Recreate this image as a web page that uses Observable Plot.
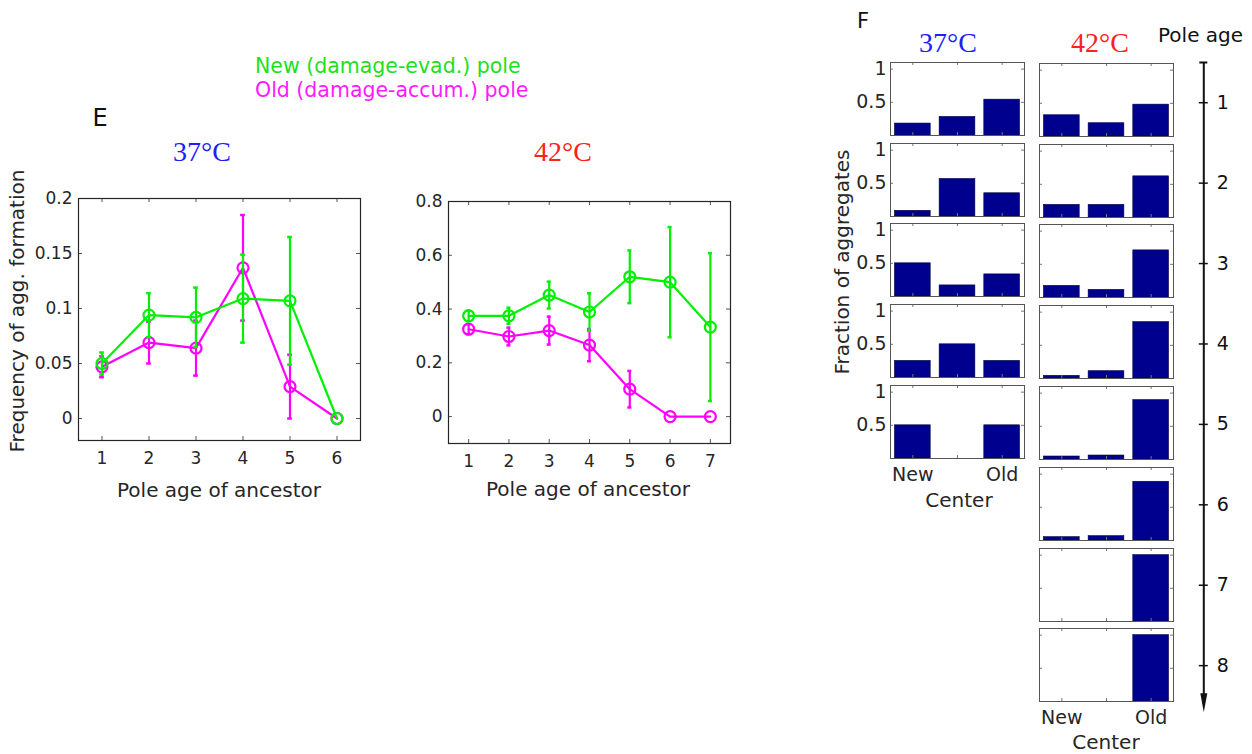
<!DOCTYPE html>
<html><head><meta charset="utf-8">
<script src="https://cdn.jsdelivr.net/npm/d3@7"></script>
<script src="https://cdn.jsdelivr.net/npm/@observablehq/plot@0.6"></script>
<style>
body{margin:0;background:#fff;}
#c{position:relative;width:1252px;height:754px;overflow:hidden;font-family:"DejaVu Sans",sans-serif;color:#262626;background:#fff;}
.t{position:absolute;white-space:nowrap;line-height:1;}
.serif{font-family:"Liberation Serif",serif;}
</style></head><body><div id="c"></div>
<script>
// ---------- Panel E data ----------
const poleAges37 = [1, 2, 3, 4, 5, 6];
const new37 = [0.050, 0.094, 0.092, 0.109, 0.107, 0];
const new37Err = [0.010, 0.020, 0.027, 0.040, 0.058, 0];
const old37 = [0.047, 0.069, 0.064, 0.137, 0.029, 0];
const old37Err = [0.0095, 0.019, 0.025, 0.048, 0.029, 0];

const poleAges42 = [1, 2, 3, 4, 5, 6, 7];
const new42 = [0.375, 0.375, 0.452, 0.389, 0.520, 0.500, 0.333];
const new42Err = [0.020, 0.030, 0.050, 0.070, 0.098, 0.205, 0.275];
const old42 = [0.325, 0.298, 0.320, 0.266, 0.102, 0, 0];
const old42Err = [0.018, 0.033, 0.052, 0.060, 0.068, 0, 0];

const yTicks37 = [0, 0.05, 0.1, 0.15, 0.2];
const yTicks42 = [0, 0.2, 0.4, 0.6, 0.8];

// ---------- Panel F data ----------
const centerLabels = ["New", "", "Old"];
const frac37 = [
  [0.18, 0.28, 0.54],
  [0.086, 0.565, 0.35],
  [0.50, 0.167, 0.333],
  [0.25, 0.50, 0.25],
  [0.50, 0, 0.50]
];
const frac42 = [
  [0.32, 0.20, 0.48],
  [0.19, 0.19, 0.62],
  [0.175, 0.115, 0.71],
  [0.04, 0.11, 0.85],
  [0.045, 0.06, 0.895],
  [0.05, 0.065, 0.885],
  [0, 0, 1],
  [0, 0, 1]
];
const poleAgeTicks = [1, 2, 3, 4, 5, 6, 7, 8];

const GREEN = "#00f000", MAGENTA = "#ff00ff", BAR = "#00008f";
const c = document.getElementById("c");

function place(el, left, top) {
  el.style.position = "absolute";
  el.style.left = left + "px";
  el.style.top = top + "px";
  c.appendChild(el);
}
function text(str, x, y, opts = {}) {
  const d = document.createElement("div");
  d.className = "t" + (opts.serif ? " serif" : "");
  d.textContent = str;
  d.style.fontSize = (opts.size || 20) + "px";
  d.style.color = opts.color || "#262626";
  d.style.left = x + "px";
  d.style.top = y + "px";
  let tr = opts.anchor === "start" ? "translate(0,-50%)" : "translate(-50%,-50%)";
  if (opts.rotate) tr += " rotate(" + opts.rotate + "deg)";
  d.style.transform = tr;
  c.appendChild(d);
}

function seriesMarks(ages, vals, errs, color) {
  const s = ages.map((a, i) => ({age: a, v: vals[i], e: errs[i]}));
  const se = s.filter(d => d.e > 0);
  return [
    Plot.ruleX(se, {x: "age", y1: d => Math.max(0, d.v - d.e), y2: d => d.v + d.e, stroke: color, strokeWidth: 2.2}),
    Plot.ruleY(se, {y: d => d.v + d.e, x1: d => d.age - 0.05, x2: d => d.age + 0.05, stroke: color, strokeWidth: 2.5}),
    Plot.ruleY(se, {y: d => Math.max(0, d.v - d.e), x1: d => d.age - 0.05, x2: d => d.age + 0.05, stroke: color, strokeWidth: 2.5}),
    Plot.line(s, {x: "age", y: "v", stroke: color, strokeWidth: 2.2}),
    Plot.dot(s, {x: "age", y: "v", r: 5.5, stroke: color, strokeWidth: 2.2, fill: "none"})
  ];
}

function lineChart(cfg) {
  const fw = cfg.width - cfg.ml - cfg.mr, fh = cfg.height - cfg.mt - cfg.mb;
  const ages = cfg.ages;
  const svg = Plot.plot({
    width: cfg.width, height: cfg.height,
    marginLeft: cfg.ml, marginRight: cfg.mr, marginTop: cfg.mt, marginBottom: cfg.mb,
    style: {background: "transparent", fontFamily: "DejaVu Sans", fontSize: "17px", color: "#262626"},
    x: {domain: cfg.xDomain},
    y: {domain: cfg.yDomain},
    marks: [
      Plot.axisX(ages, {tickSize: 0, tickPadding: 11, label: null, tickFormat: d => String(d)}),
      Plot.axisY(cfg.yTicks, {tickSize: 0, tickPadding: 6, label: null, tickFormat: d => String(d)}),
      Plot.tickX(ages, {x: d => d, insetTop: fh - 4, stroke: "#555"}),
      Plot.tickX(ages, {x: d => d, insetBottom: fh - 4, stroke: "#555"}),
      Plot.tickY(cfg.yTicks, {y: d => d, insetRight: fw - 4, stroke: "#555"}),
      Plot.tickY(cfg.yTicks, {y: d => d, insetLeft: fw - 4, stroke: "#555"}),
      ...seriesMarks(ages, cfg.oldV, cfg.oldE, MAGENTA),
      ...seriesMarks(ages, cfg.newV, cfg.newE, GREEN),
      Plot.frame({stroke: "#262626", strokeWidth: 1.2})
    ]
  });
  place(svg, cfg.left, cfg.top);
}

lineChart({ages: poleAges37, newV: new37, newE: new37Err, oldV: old37, oldE: old37Err,
  xDomain: [0.5, 6.5], yDomain: [-0.02, 0.2], yTicks: yTicks37,
  left: 0, top: 170, width: 370, height: 310, ml: 78, mr: 10, mt: 28, mb: 40});
lineChart({ages: poleAges42, newV: new42, newE: new42Err, oldV: old42, oldE: old42Err,
  xDomain: [0.5, 7.5], yDomain: [-0.1, 0.8], yTicks: yTicks42,
  left: 370, top: 170, width: 370, height: 310, ml: 78, mr: 10, mt: 31, mb: 37});

// ---------- Panel F small bar panels ----------
const rowTops = [62, 143, 223, 304, 385, 466, 547, 627];
const FW = 134, FH = 73;
function barPanel(vals, left, top, showY, showX) {
  const ml = showY ? 40 : 2, mr = 2, mt = 12, mb = showX ? 30 : 2;
  const rows = vals.map((v, i) => ({pos: i + 1, v}));
  const marks = [
    Plot.rectY(rows, {x1: d => d.pos - 0.4, x2: d => d.pos + 0.4, y1: 0, y2: "v", fill: BAR, stroke: "#000040", strokeWidth: 0.6}),
    Plot.tickX([1, 2, 3], {x: d => d, insetBottom: FH - 3, stroke: "#777"}),
    Plot.tickX([1, 2, 3], {x: d => d, insetTop: FH - 3, stroke: "#777"}),
    Plot.tickY([0.5, 1], {y: d => d, insetRight: FW - 3, stroke: "#777"}),
    Plot.tickY([0.5, 1], {y: d => d, insetLeft: FW - 3, stroke: "#777"}),
    Plot.frame({stroke: "#555"})
  ];
  if (showY) marks.push(Plot.axisY([0.5, 1], {tickSize: 0, tickPadding: 4, label: null, tickFormat: d => String(d)}));
  if (showX) marks.push(Plot.axisX([1, 3], {tickSize: 0, tickPadding: 9, label: null, tickFormat: d => centerLabels[d - 1]}));
  const svg = Plot.plot({
    width: ml + FW + mr, height: mt + FH + mb,
    marginLeft: ml, marginRight: mr, marginTop: mt, marginBottom: mb,
    style: {background: "transparent", fontFamily: "DejaVu Sans", fontSize: "19px", color: "#262626"},
    x: {domain: [0.5, 3.5], axis: showX ? undefined : null},
    y: {domain: [0, 1.1], axis: showY ? undefined : null},
    marks
  });
  place(svg, left - ml, top - mt);
}
frac37.forEach((v, i) => barPanel(v, 890, rowTops[i], true, i === frac37.length - 1));
frac42.forEach((v, i) => barPanel(v, 1039, rowTops[i] + 1, false, i === frac42.length - 1));

// ---------- Pole age arrow axis ----------
const arrowHead = {draw(ctx) { ctx.moveTo(0, 0); ctx.lineTo(-3.5, -19); ctx.lineTo(3.5, -19); ctx.closePath(); }};
const axisSvg = Plot.plot({
  width: 70, height: 690, margin: 0,
  style: {background: "transparent", fontFamily: "DejaVu Sans", fontSize: "19px", color: "#111"},
  x: {domain: [-1, 1], range: [13.3, 33.3], axis: null},
  y: {domain: [0.5, 8.58], range: [22, 671.8], axis: null},
  marks: [
    Plot.ruleX([0], {y1: 0.5, y2: 8.4, stroke: "#111", strokeWidth: 2}),
    Plot.ruleY([0.5], {y: d => d, x1: -0.4, x2: 0.4, stroke: "#111", strokeWidth: 2}),
    Plot.ruleY(poleAgeTicks, {y: d => d, x1: -0.45, x2: 0.45, stroke: "#111", strokeWidth: 1.5}),
    Plot.text(poleAgeTicks, {y: d => d, x: 1.3, text: d => String(d), textAnchor: "start", fill: "#111"}),
    Plot.dot([8.58], {x: 0, y: d => d, symbol: arrowHead, fill: "#111", stroke: "none"})
  ]
});
place(axisSvg, 1180, 40);

// ---------- Text ----------
text("New (damage-evad.) pole", 255, 66, {anchor: "start", color: "#1ee01e", size: 20.5});
text("Old (damage-accum.) pole", 255, 90, {anchor: "start", color: "#ff1aff", size: 20.5});
text("E", 100, 118, {size: 24, color: "#111"});
text("37°C", 202, 152, {serif: true, size: 28, color: "#2020ff"});
text("42°C", 563, 152, {serif: true, size: 28, color: "#ff2020"});
text("Frequency of agg. formation", 17, 311, {size: 20, rotate: -90});
text("Pole age of ancestor", 219, 490, {size: 20});
text("Pole age of ancestor", 588, 489, {size: 20});
text("F", 863, 21, {size: 21, color: "#111"});
text("37°C", 948, 43, {serif: true, size: 28, color: "#2020ff"});
text("42°C", 1100, 43, {serif: true, size: 28, color: "#ff2020"});
text("Pole age", 1158, 35, {anchor: "start", size: 20, color: "#111"});
text("Fraction of aggregates", 842, 262, {size: 20, rotate: -90});
text("Center", 959, 500, {size: 20});
text("Center", 1106, 742, {size: 20});
</script></body></html>
